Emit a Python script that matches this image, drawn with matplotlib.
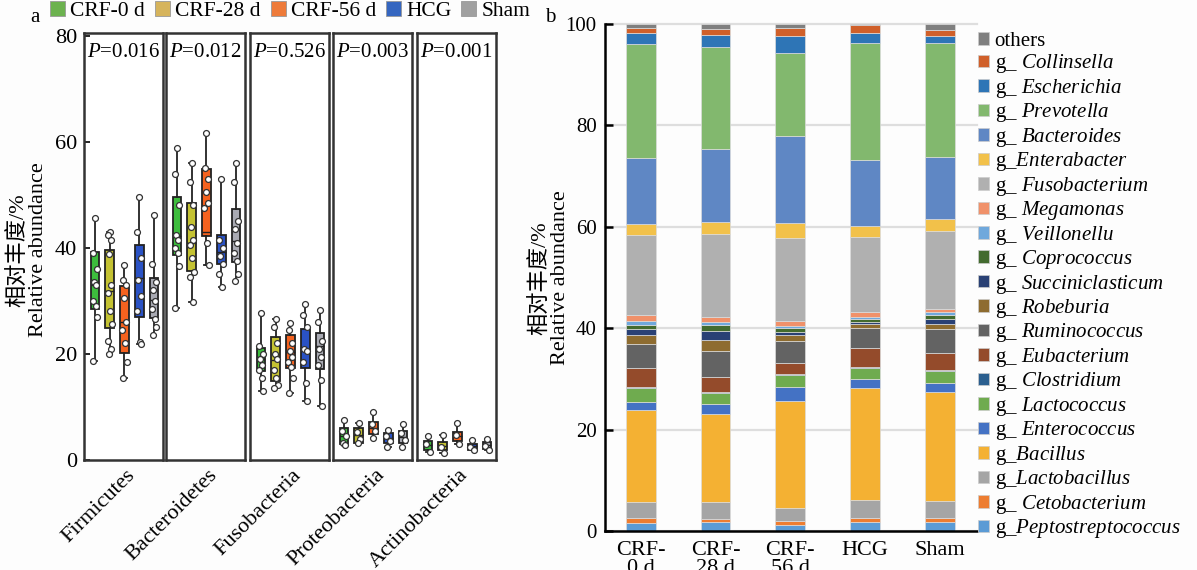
import matplotlib.pyplot as plt
from matplotlib.patches import Patch

plt.rcParams['font.family'] = ['Liberation Serif', 'Noto Sans CJK SC']
plt.rcParams['mathtext.fontset'] = 'custom'
plt.rcParams['mathtext.it'] = 'Liberation Serif:italic'
plt.rcParams['mathtext.rm'] = 'Liberation Serif'

# ---------------- data: panel a (box plots) ----------------
groups = ['CRF-0 d', 'CRF-28 d', 'CRF-56 d', 'HCG', 'Sham']
phyla = ['Firmicutes', 'Bacteroidetes', 'Fusobacteria', 'Proteobacteria', 'Actinobacteria']
p_values = ['0.016', '0.012', '0.526', '0.003', '0.001']

# (min, q1, median, q3, max) for each group
firmicutes_box = [(18.7, 28.4, 33.0, 39.3, 45.6), (19.9, 24.8, 31.9, 39.6, 43.0),
                  (15.5, 20.2, 26.0, 32.8, 36.7), (21.8, 26.9, 34.4, 40.6, 49.6),
                  (23.6, 26.7, 30.2, 34.3, 46.2)]
bacteroidetes_box = [(28.6, 38.6, 42.3, 49.5, 58.8), (29.8, 35.7, 41.0, 48.5, 56.0),
                     (36.8, 42.3, 43.0, 54.8, 61.6), (32.7, 37.0, 39.3, 42.5, 53.0),
                     (33.8, 37.3, 41.2, 47.3, 56.0)]
fusobacteria_box = [(13.1, 16.8, 19.0, 21.1, 27.7), (13.5, 14.8, 18.9, 23.1, 26.5),
                    (12.6, 17.4, 20.4, 23.6, 25.9), (11.2, 17.4, 20.9, 24.7, 29.4),
                    (10.2, 17.1, 21.4, 23.9, 28.3)]
proteobacteria_box = [(2.8, 3.0, 4.5, 6.0, 7.5), (3.2, 3.2, 4.7, 6.0, 6.9),
                      (4.1, 4.9, 6.1, 7.2, 9.1), (2.5, 3.2, 4.1, 5.0, 5.7),
                      (2.5, 3.2, 4.4, 5.5, 6.7)]
actinobacteria_box = [(1.6, 1.8, 2.9, 3.6, 4.6), (1.3, 1.8, 2.7, 3.3, 4.7),
                      (3.0, 3.6, 4.5, 5.2, 7.0), (1.8, 1.8, 2.6, 3.0, 3.8),
                      (1.9, 2.0, 2.8, 3.3, 3.9)]

firmicutes_pts = [[45.6, 39.0, 36.0, 33.6, 33.0, 30.0, 29.0, 27.0, 18.7],
                  [43.0, 42.4, 41.5, 38.8, 33.0, 31.5, 28.0, 25.6, 22.5, 21.0, 19.9],
                  [36.7, 34.0, 33.0, 30.5, 26.0, 24.5, 22.0, 18.5, 15.5],
                  [49.6, 43.0, 38.0, 34.0, 31.0, 28.0, 22.2, 21.8],
                  [46.2, 37.0, 33.5, 32.0, 30.0, 28.5, 26.5, 25.0, 23.6]]
bacteroidetes_pts = [[58.8, 54.0, 48.0, 42.5, 41.5, 40.0, 39.0, 36.5, 28.6],
                     [56.0, 52.5, 48.0, 44.0, 41.5, 40.5, 38.0, 35.5, 34.5, 29.8],
                     [61.6, 55.0, 53.0, 50.5, 48.5, 47.5, 41.0, 36.8],
                     [53.0, 41.5, 40.0, 38.5, 37.0, 35.0, 32.7],
                     [56.0, 52.5, 45.0, 43.5, 41.0, 39.0, 37.5, 35.0, 33.8]]
fusobacteria_pts = [[27.7, 21.5, 20.0, 19.0, 18.0, 17.0, 15.5, 13.1],
                    [26.5, 25.0, 22.0, 20.0, 19.0, 17.0, 15.5, 14.2, 13.5],
                    [25.9, 24.6, 22.0, 20.5, 19.5, 18.5, 17.5, 15.5, 12.6],
                    [29.4, 27.3, 25.0, 21.0, 20.5, 18.5, 14.5, 11.2],
                    [28.3, 26.0, 22.5, 21.0, 19.5, 18.0, 15.0, 10.2]]
proteobacteria_pts = [[7.5, 5.5, 4.5, 3.2, 2.8], [6.9, 5.2, 4.0, 3.2],
                      [9.1, 6.8, 5.5, 4.1], [5.7, 4.5, 3.5, 2.5], [6.7, 5.0, 3.8, 2.5]]
actinobacteria_pts = [[4.6, 3.0, 1.6], [4.7, 2.5, 1.3], [7.0, 4.8, 3.0],
                      [3.8, 2.4, 1.8], [3.9, 2.6, 1.9]]

all_box = [firmicutes_box, bacteroidetes_box, fusobacteria_box,
           proteobacteria_box, actinobacteria_box]
all_pts = [firmicutes_pts, bacteroidetes_pts, fusobacteria_pts,
           proteobacteria_pts, actinobacteria_pts]

# ---------------- data: panel b (stacked bars, %) ----------------
samples = ['CRF-\n0 d', 'CRF-\n28 d', 'CRF-\n56 d', 'HCG', 'Sham']
genera = ['Peptostreptococcus', 'Cetobacterium', 'Lactobacillus', 'Bacillus',
          'Enterococcus', 'Lactococcus', 'Clostridium', 'Eubacterium',
          'Ruminococcus', 'Robeburia', 'Succiniclasticum', 'Coprococcus',
          'Veillonellu', 'Megamonas', 'Fusobacterium', 'Enterabacter',
          'Bacteroides', 'Prevotella', 'Escherichia', 'Collinsella', 'others']
crf0_pct = [1.5, 1.0, 3.3, 18.1, 1.6, 2.8, 0.2, 3.7, 4.6, 1.8, 1.2, 0.8, 0.9, 1.2,
            15.6, 2.2, 13.1, 22.4, 2.2, 1.1, 0.7]
crf28_pct = [1.8, 0.6, 3.3, 17.4, 1.9, 2.2, 0.2, 3.0, 5.1, 2.2, 1.7, 1.2, 0.6, 1.1,
             16.2, 2.5, 14.3, 20.2, 2.3, 1.2, 1.0]
crf56_pct = [1.2, 0.8, 2.5, 21.2, 2.8, 2.3, 0.2, 2.1, 4.4, 1.1, 0.7, 0.7, 0.5, 1.0,
             16.2, 3.1, 17.2, 16.2, 3.5, 1.5, 0.8]
hcg_pct = [1.8, 0.8, 3.5, 22.2, 1.7, 2.1, 0.2, 3.7, 4.1, 0.7, 0.5, 0.6, 0.4, 0.9,
           14.8, 2.2, 12.9, 23.2, 1.9, 1.7, 0.1]
sham_pct = [1.8, 0.8, 3.3, 21.6, 1.6, 2.5, 0.2, 3.4, 4.6, 1.0, 1.0, 0.8, 0.5, 0.6,
            15.5, 2.3, 12.3, 22.5, 1.3, 1.3, 1.1]
bar_data = [crf0_pct, crf28_pct, crf56_pct, hcg_pct, sham_pct]

genus_colors = ['#5b9bd5', '#ed7d31', '#a5a5a5', '#f4b133', '#4472c4', '#6fab4f',
                '#2b5f8f', '#944b2b', '#636363', '#8e6c30', '#2a4175', '#436b2f',
                '#6fa8dc', '#f0916a', '#b0b0b0', '#f2c14a', '#5f87c4', '#82b86e',
                '#2e75b6', '#d0602a', '#7f7f7f']
no_space = {'Enterabacter', 'Bacillus', 'Lactobacillus', 'Peptostreptococcus'}

box_colors = ['#3dbd3d', '#c4c232', '#f5621f', '#2a52c4', '#a9aab3']
legend_colors = ['#6cb24f', '#d6b45c', '#ee7b3a', '#3566c0', '#a0a0a0']

W, H = 1197, 570
fig = plt.figure(figsize=(W / 100, H / 100), dpi=100)
fig.patch.set_facecolor('#fdfdfd')

# ---------------- panel a ----------------
panel_left = [84, 166, 250, 333, 417]
jitter = [0.0, -0.13, 0.12, -0.06, 0.09, -0.14, 0.05, 0.14, -0.09, 0.1, -0.03]
for i, phylum in enumerate(phyla):
    ax = fig.add_axes([panel_left[i] / W, 110 / H, 79 / W, 427 / H])
    stats = [dict(whislo=b[0], q1=b[1], med=b[2], q3=b[3], whishi=b[4])
             for b in all_box[i]]
    bp = ax.bxp(stats, positions=range(1, 6), widths=0.58, patch_artist=True,
                showfliers=False, capwidths=0.3,
                boxprops=dict(edgecolor='#222222', linewidth=1.3),
                whiskerprops=dict(color='#222222', linewidth=1.3),
                capprops=dict(color='#222222', linewidth=1.3),
                medianprops=dict(color='#222222', linewidth=1.0))
    for patch, c in zip(bp['boxes'], box_colors):
        patch.set_facecolor(c)
    for g, pts in enumerate(all_pts[i]):
        xs = [g + 1 + jitter[k % len(jitter)] for k in range(len(pts))]
        ax.scatter(xs, pts, s=18, facecolor='white', edgecolor='#333333',
                   linewidth=0.9, zorder=3)
    ax.set_xlim(0.27, 5.6)
    ax.set_ylim(0, 80.5)
    for sp in ax.spines.values():
        sp.set_linewidth(1.8)
        sp.set_color('#333333')
    ax.set_facecolor('white')
    ax.set_xticks([3.1])
    ax.set_xticklabels([phylum], rotation=45, ha='right', va='top',
                       rotation_mode='anchor', fontsize=16)
    ax.tick_params(axis='x', length=0, pad=4)
    if i == 0:
        ax.set_yticks([0, 20, 40, 60, 80])
        ax.tick_params(axis='y', direction='in', length=4, width=1.2,
                       labelsize=16, pad=5)
    else:
        ax.set_yticks([])
    ax.text(0.5, 0.955, r'$\it{P}$=' + p_values[i], transform=ax.transAxes,
            ha='center', va='center', fontsize=15)

handles_a = [Patch(facecolor=c, edgecolor='#999999', linewidth=0.6)
             for c in legend_colors]
fig.legend(handles_a, groups, loc='upper left', ncol=5, frameon=False,
           bbox_to_anchor=(50 / W, 1 - 1 / H), fontsize=15.5, handlelength=0.7,
           handleheight=0.7, handletextpad=0.25, columnspacing=0.45,
           borderpad=0, borderaxespad=0)
fig.text(35 / W, 1 - 18 / H, 'a', fontsize=15, ha='center', va='center')
fig.text(28 / W, 1 - 250 / H, '相对丰度/%\nRelative abundance', rotation=90,
         ha='center', va='center', fontsize=16, linespacing=1.0)

# ---------------- panel b ----------------
axb = fig.add_axes([605 / W, 39 / H, 372 / W, 507 / H])
bottoms = [0.0] * len(samples)
for k, genus in enumerate(genera):
    vals = [bar_data[s][k] for s in range(len(samples))]
    axb.bar(range(len(samples)), vals, width=0.4, bottom=bottoms,
            color=genus_colors[k], edgecolor='#dcdcdc', linewidth=0.5,
            label=genus, zorder=2)
    bottoms = [b + v for b, v in zip(bottoms, vals)]
axb.set_xlim(-0.48, 4.5)
axb.set_ylim(0, 100)
axb.set_yticks([0, 20, 40, 60, 80, 100])
axb.yaxis.grid(True, color='#dedede', linewidth=1.6, zorder=0)
axb.set_axisbelow(True)
for ln in axb.get_ygridlines():
    ln.set_clip_on(False)
axb.spines['top'].set_visible(False)
axb.spines['right'].set_visible(False)
axb.spines['left'].set_linewidth(1.8)
axb.spines['bottom'].set_linewidth(1.8)
axb.set_facecolor('none')
axb.tick_params(axis='y', direction='in', length=6, width=1.8, labelsize=15, pad=6)
axb.set_xticks(range(len(samples)))
axb.set_xticklabels(samples, fontsize=16, linespacing=0.95)
axb.tick_params(axis='x', length=0, pad=7)

fig.text(550 / W, 1 - 17 / H, 'b', fontsize=15, ha='center', va='center')
fig.text(550 / W, 1 - 278 / H, '相对丰度/%\nRelative abundance', rotation=90,
         ha='center', va='center', fontsize=16, linespacing=1.0)

labels_b = []
for genus in genera:
    if genus == 'others':
        labels_b.append('others')
    elif genus in no_space:
        labels_b.append('g_$\\it{' + genus + '}$')
    else:
        labels_b.append('g_ $\\it{' + genus + '}$')
handles_b = [Patch(facecolor=c, edgecolor='#cccccc', linewidth=0.5)
             for c in genus_colors]
fig.legend(handles_b[::-1], labels_b[::-1], loc='upper left', frameon=False,
           bbox_to_anchor=(978 / W, 1 - 32 / H), fontsize=15, handlelength=0.55,
           handleheight=0.55, handletextpad=0.25, labelspacing=0.07,
           borderpad=0, borderaxespad=0)

fig.savefig('out.png', dpi=100, facecolor=fig.get_facecolor())
